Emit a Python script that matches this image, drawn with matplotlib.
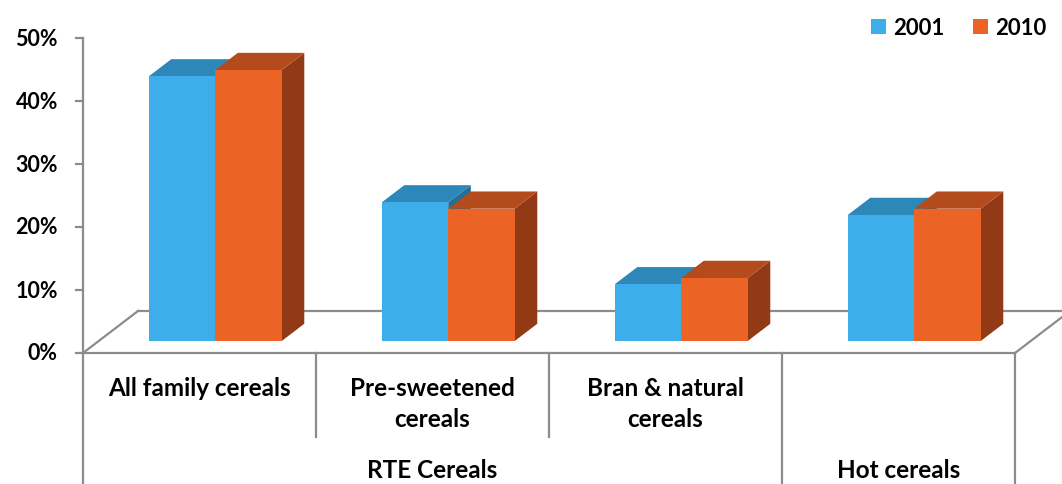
import matplotlib
matplotlib.use("Agg")
import matplotlib.pyplot as plt
from matplotlib.patches import Polygon, Patch

# ---- data ----
categories = ["All family cereals", "Pre-sweetened\ncereals", "Bran & natural\ncereals", ""]
groups = ["RTE Cereals", "Hot cereals"]
group_spans = [(0, 3), (3, 4)]
series_names = ["2001", "2010"]
values_2001 = [42, 22, 9, 20]
values_2010 = [43, 21, 10, 21]
yticks = [0, 10, 20, 30, 40, 50]
ytick_labels = ["0%", "10%", "20%", "30%", "40%", "50%"]

# ---- style ----
plt.rcParams['font.family'] = ['Lato', 'DejaVu Sans']
FS_CAT = 17.5
FS_TICK = 15.5
FS_LEG = 16
front_cols = ["#3DAEE9", "#EC6326"]
top_cols = ["#2D88B9", "#B44B1D"]
side_cols = ["#236F99", "#923A16"]
axis_col = "#8C8C8C"

W, H = 1062, 485
fig = plt.figure(figsize=(W / 100, H / 100), dpi=100)
ax = fig.add_axes([0, 0, 1, 1])
PX_X = 233.0   # px per category
PX_Y = 6.3     # px per percent
X0, Y0 = 83.0, 354.0
ax.set_xlim(-X0 / PX_X, (W - X0) / PX_X)
ax.set_ylim(-(H - Y0) / PX_Y, Y0 / PX_Y)
ax.axis("off")

n = len(categories)
DX, DY = 55 / PX_X, 42 / PX_Y          # full floor depth
F0 = 0.286                              # bar front depth fraction
BD = 0.41                               # bar depth fraction
ox, oy = DX * F0, DY * F0
bdx, bdy = DX * BD, DY * BD
bw = 66.5 / PX_X

# floor
lw = 1.6
ax.plot([0, n], [0, 0], color=axis_col, lw=lw, zorder=1)
ax.plot([0, DX], [0, DY], color=axis_col, lw=lw, zorder=1)
ax.plot([n, n + DX], [0, DY], color=axis_col, lw=lw, zorder=1)
ax.plot([DX, n + DX], [DY, DY], color=axis_col, lw=lw, zorder=1)

# y axis
ax.plot([0, 0], [0, 50], color=axis_col, lw=lw, zorder=1)
for t, lab in zip(yticks, ytick_labels):
    ax.plot([-7 / PX_X, 0], [t, t], color=axis_col, lw=lw, zorder=1)
    ax.text(-25 / PX_X, t, lab, ha="right", va="center", fontsize=FS_TICK,
            fontweight="bold", color="black")

# bars
z = 3
for i in range(n):
    for s, vals in enumerate([values_2001, values_2010]):
        v = vals[i]
        xl = i + 0.5 - bw + s * bw + ox
        xr = xl + bw
        base = oy
        top = base + v
        ax.bar(xl, v, width=bw, bottom=base, align="edge", color=front_cols[s],
               edgecolor="none", zorder=z)
        ax.add_patch(Polygon([(xr, base), (xr, top), (xr + bdx, top + bdy), (xr + bdx, base + bdy)],
                             closed=True, facecolor=side_cols[s], edgecolor="none", zorder=z - 0.5))
        ax.add_patch(Polygon([(xl, top), (xr, top), (xr + bdx, top + bdy), (xl + bdx, top + bdy)],
                             closed=True, facecolor=top_cols[s], edgecolor="none", zorder=z - 0.5))
        z += 1

# category table lines
ybot = -(H - Y0) / PX_Y
ymid = -(438 - Y0) / PX_Y
for x in range(n + 1):
    full = x == 0 or x == n or any(x == a or x == b for a, b in group_spans)
    ax.plot([x, x], [0, ybot if full else ymid], color=axis_col, lw=lw, zorder=1)

# category labels
for i, c in enumerate(categories):
    for j, line in enumerate(c.split("\n")):
        if line:
            ax.text(i + 0.5, -(388 + 32 * j - Y0) / PX_Y, line, ha="center", va="center",
                    fontsize=FS_CAT, fontweight="bold", color="black")
for g, (a, b) in zip(groups, group_spans):
    ax.text((a + b) / 2, -(471 - Y0) / PX_Y, g, ha="center", va="center",
            fontsize=FS_CAT, fontweight="bold", color="black")

# legend
handles = [Patch(facecolor=front_cols[s], edgecolor="none") for s in range(2)]
leg = ax.legend(handles, series_names, loc="upper right", bbox_to_anchor=(1046 / W, 1 - 18 / H),
                ncol=2, frameon=False, prop={"weight": "bold", "size": FS_LEG},
                handlelength=0.68, handleheight=0.68, handletextpad=0.32, columnspacing=1.25,
                borderpad=0, borderaxespad=0)

fig.savefig("out.png", dpi=100)
